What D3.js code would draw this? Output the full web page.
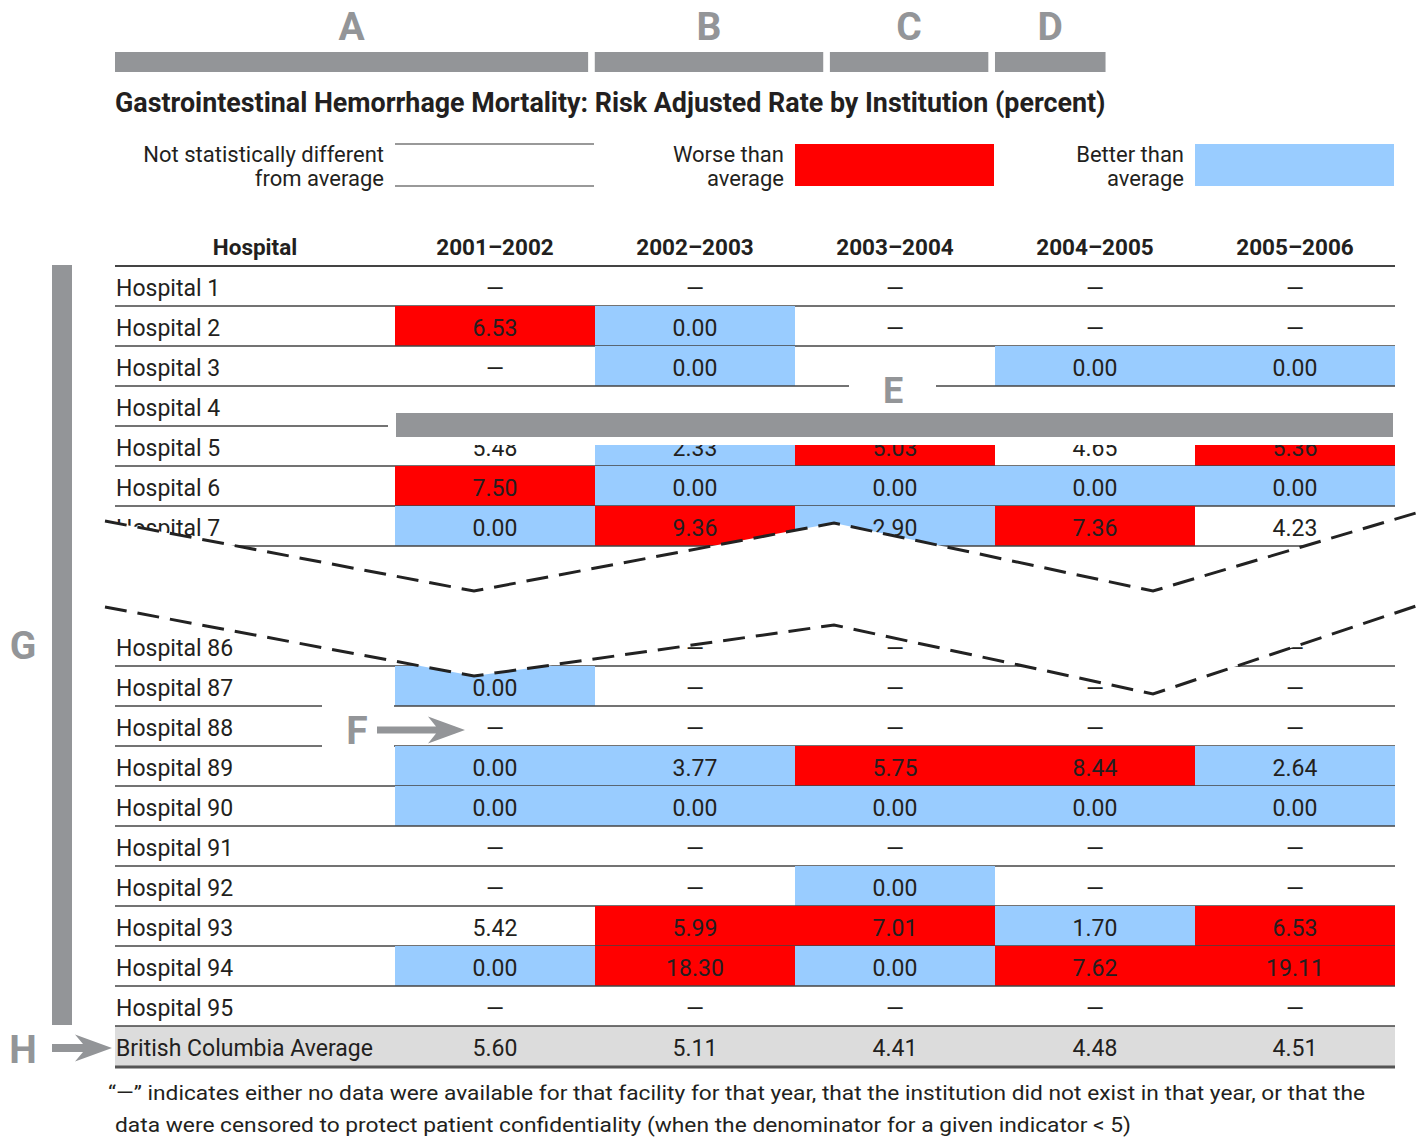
<!DOCTYPE html>
<html>
<head>
<meta charset="utf-8">
<script src="https://cdn.jsdelivr.net/npm/d3@7"></script>
<style>
body{margin:0;background:#fff;}
text{font-family:Roboto,"Open Sans",sans-serif;fill:#231f20;}
.lbl{fill:#939598;font-weight:bold;}
</style>
</head>
<body>
<script>
/* GI hemorrhage mortality table, annotated A-H */

var hospitals=["Hospital 1","Hospital 2","Hospital 3","Hospital 4","Hospital 5","Hospital 6","Hospital 7",
  "Hospital 86","Hospital 87","Hospital 88","Hospital 89","Hospital 90","Hospital 91","Hospital 92",
  "Hospital 93","Hospital 94","Hospital 95"];
var years=["2001–2002","2002–2003","2003–2004","2004–2005","2005–2006"];
// "" = hidden under the E bar
var values=[
  ["—","—","—","—","—"],
  ["6.53","0.00","—","—","—"],
  ["—","0.00","—","0.00","0.00"],
  ["","","","",""],
  ["5.48","2.33","5.03","4.65","5.36"],
  ["7.50","0.00","0.00","0.00","0.00"],
  ["0.00","9.36","2.90","7.36","4.23"],
  ["—","—","—","—","—"],
  ["0.00","—","—","—","—"],
  ["—","—","—","—","—"],
  ["0.00","3.77","5.75","8.44","2.64"],
  ["0.00","0.00","0.00","0.00","0.00"],
  ["—","—","—","—","—"],
  ["—","—","0.00","—","—"],
  ["5.42","5.99","7.01","1.70","6.53"],
  ["0.00","18.30","0.00","7.62","19.11"],
  ["—","—","—","—","—"]
];
// n = not different, w = worse, b = better
var flags=[
  ["n","n","n","n","n"],
  ["w","b","n","n","n"],
  ["n","b","n","b","b"],
  ["n","n","n","n","n"],
  ["n","b","w","n","w"],
  ["w","b","b","b","b"],
  ["b","w","b","w","n"],
  ["n","n","n","n","n"],
  ["b","n","n","n","n"],
  ["n","n","n","n","n"],
  ["b","b","w","w","b"],
  ["b","b","b","b","b"],
  ["n","n","n","n","n"],
  ["n","n","b","n","n"],
  ["n","w","w","b","w"],
  ["b","w","b","w","w"],
  ["n","n","n","n","n"]
];
var average=["5.60","5.11","4.41","4.48","4.51"];
var titleParts=["Gastrointestinal Hemorrhage Mortality:","Risk Adjusted Rate","by Institution","(percent)"];
var partLetters=["A","B","C","D"];
var legendKeys=["n","w","b"];
var legendText=[["Not statistically different","from average"],["Worse than","average"],["Better than","average"]];
var footnote=["“—” indicates either no data were available for that facility for that year, that the institution did not exist in that year, or that the",
  "data were censored to protect patient confidentiality (when the denominator for a given indicator < 5)"];

var fillOf={n:"none",w:"#ff0000",b:"#99ccff"};
var grey="#939598";

var svg=d3.select("body").append("svg").attr("width",1421).attr("height",1143);

var left=115, right=1395;
var x=d3.scaleBand().domain(years).range([395,right]);
var bw=x.bandwidth();
// 7 rows, gap of 2 rows for the break, 10 rows, then the average row
var y=d3.scaleBand().domain(d3.range(20)).range([266,1066]);
var rh=y.bandwidth();
function slot(i){return i<7?i:i+2;}

// title, sized to fit, and the A-D bars over its parts
var title=svg.append("text").attr("x",left).attr("y",112)
  .style("font-weight","bold").style("font-size","24px")
  .text(titleParts.join(" "));
var natural=title.node().getComputedTextLength();
title.style("font-size",(24*991/natural)+"px");
var tn=title.node(), pos=0;
titleParts.forEach(function(p,k){
  var x0=left+(pos>0?tn.getSubStringLength(0,pos):0);
  var w=tn.getSubStringLength(pos,p.length);
  svg.append("rect").attr("x",x0).attr("y",52).attr("width",w).attr("height",20).attr("fill",grey);
  svg.append("text").attr("class","lbl").attr("x",x0+w/2).attr("y",40)
    .attr("text-anchor","middle").style("font-size","39px").text(partLetters[k]);
  pos+=p.length+1;
});

// legend
var lg=svg.selectAll(".leg").data(legendKeys).enter().append("g").attr("class","leg")
  .attr("transform",(d,i)=>"translate("+x(years[i*2])+",0)");
lg.each(function(d,i){
  var g=d3.select(this);
  if(d=="n"){
    g.append("line").attr("x1",0).attr("x2",bw-1).attr("y1",144).attr("y2",144).attr("stroke","#777").attr("stroke-width",1.5);
    g.append("line").attr("x1",0).attr("x2",bw-1).attr("y1",186).attr("y2",186).attr("stroke","#777").attr("stroke-width",1.5);
  } else {
    g.append("rect").attr("x",0).attr("y",144).attr("width",bw-1).attr("height",42).attr("fill",fillOf[d]);
  }
  g.selectAll("text").data(legendText[i]).enter().append("text")
    .attr("x",-11).attr("y",(t,k)=>162+k*24).attr("text-anchor","end")
    .style("font-size","22px").text(t=>t);
});

// header
svg.append("text").attr("x",(left+395)/2).attr("y",255).attr("text-anchor","middle")
  .style("font-weight","bold").style("font-size","22.5px").text("Hospital");
svg.selectAll(".yr").data(years).enter().append("text").attr("class","yr")
  .attr("x",d=>x(d)+bw/2).attr("y",255).attr("text-anchor","middle")
  .style("font-weight","bold").style("font-size","22.5px").text(d=>d);

// average row background
svg.append("rect").attr("x",left).attr("y",y(19)).attr("width",right-left).attr("height",rh).attr("fill","#dcdcdc");

// rows
var rows=svg.selectAll(".row").data(hospitals).enter().append("g").attr("class","row")
  .attr("transform",(d,i)=>"translate(0,"+y(slot(i))+")");
rows.selectAll("rect").data((d,i)=>years.map((yr,j)=>({yr:yr,f:flags[i][j]})))
  .enter().append("rect").filter(d=>d.f!="n")
  .attr("x",d=>x(d.yr)).attr("y",0).attr("width",bw).attr("height",rh).attr("fill",d=>fillOf[d.f]);
rows.append("text").attr("x",left+1).attr("y",30).style("font-size","23px").text(d=>d);
rows.selectAll(".v").data((d,i)=>years.map((yr,j)=>({yr:yr,v:values[i][j]})))
  .enter().append("text").attr("class","v")
  .attr("x",d=>x(d.yr)+bw/2).attr("y",d=>d.v=="—"?31:30).attr("text-anchor","middle")
  .style("font-size","23px").text(d=>d.v);
rows.append("line").attr("x1",left).attr("x2",right).attr("y1",rh).attr("y2",rh)
  .attr("stroke","#444").attr("stroke-width",1.3);

var avg=svg.append("g").attr("transform","translate(0,"+y(19)+")");
avg.append("text").attr("x",left+1).attr("y",30).style("font-size","23px").text("British Columbia Average");
avg.selectAll(".v").data(average).enter().append("text").attr("class","v")
  .attr("x",(d,j)=>x(years[j])+bw/2).attr("y",30).attr("text-anchor","middle")
  .style("font-size","23px").text(d=>d);
svg.append("line").attr("x1",left).attr("x2",right).attr("y1",y(19)+rh+1).attr("y2",y(19)+rh+1)
  .attr("stroke","#555").attr("stroke-width",3);
svg.append("line").attr("x1",left).attr("x2",right).attr("y1",y(0)).attr("y2",y(0))
  .attr("stroke","#444").attr("stroke-width",2);

// E: bar over hospital 4
svg.append("rect").attr("x",388).attr("y",y(3)+1).attr("width",right-388+2).attr("height",rh+18).attr("fill","#fff");
svg.append("rect").attr("x",849).attr("y",y(3)-23).attr("width",87).attr("height",25).attr("fill","#fff");
svg.append("rect").attr("x",396).attr("y",y(3)+27).attr("width",right-398).attr("height",24).attr("fill",grey);
svg.append("text").attr("class","lbl").attr("x",x(years[2])+bw/2-2).attr("y",y(3)+17)
  .attr("text-anchor","middle").style("font-size","36px").text("E");

// F: arrow pointing at a dash
function arrow(x0,x1,yy,th,hl,hh){
  return "M"+x0+","+(yy-th/2)+"L"+(x1-hl+8)+","+(yy-th/2)+"L"+(x1-hl)+","+(yy-hh/2)
    +"L"+x1+","+yy+"L"+(x1-hl)+","+(yy+hh/2)+"L"+(x1-hl+8)+","+(yy+th/2)+"L"+x0+","+(yy+th/2)+"Z";
}
var fy=y(slot(9));
svg.append("rect").attr("x",322).attr("y",fy-4).attr("width",72).attr("height",rh+8).attr("fill","#fff");
svg.append("text").attr("class","lbl").attr("x",357).attr("y",fy+38).attr("text-anchor","middle")
  .style("font-size","39px").text("F");
svg.append("path").attr("d",arrow(377,465,fy+24,7,37,27)).attr("fill",grey);

// G: bracket for hospital rows
svg.append("rect").attr("x",52).attr("y",y(0)-1).attr("width",20).attr("height",y(19)-y(0)).attr("fill",grey);
svg.append("text").attr("class","lbl").attr("x",23).attr("y",659).attr("text-anchor","middle")
  .style("font-size","39px").text("G");

// H: arrow to the provincial average
svg.append("text").attr("class","lbl").attr("x",23).attr("y",y(19)+37).attr("text-anchor","middle")
  .style("font-size","39px").text("H");
svg.append("path").attr("d",arrow(52,112,y(19)+22,8,37,27)).attr("fill",grey);

// break between hospital 7 and hospital 86
var brkX=[105,474,834,1153,1416];
var brkTop=[521,591,523,591,513];
var brkBot=[607,676,625,694,606];
var top_=brkX.map((v,i)=>[v,brkTop[i]]), bot=brkX.map((v,i)=>[v,brkBot[i]]);
svg.append("path").attr("d",d3.line()(top_.concat(bot.slice().reverse()))+"Z").attr("fill","#fff");
[top_,bot].forEach(function(p){
  svg.append("path").attr("d",d3.line()(p)).attr("fill","none").attr("stroke","#222")
    .attr("stroke-width",3).attr("stroke-dasharray","22,11");
});

// footnote
svg.selectAll(".fn").data(footnote).enter().append("text").attr("class","fn")
  .attr("x",(d,i)=>i?115:108).attr("y",(d,i)=>1100+i*32)
  .attr("textLength",(d,i)=>i?1016:1257).attr("lengthAdjust","spacingAndGlyphs")
  .style("font-size","21px").text(d=>d);
</script>
</body>
</html>
